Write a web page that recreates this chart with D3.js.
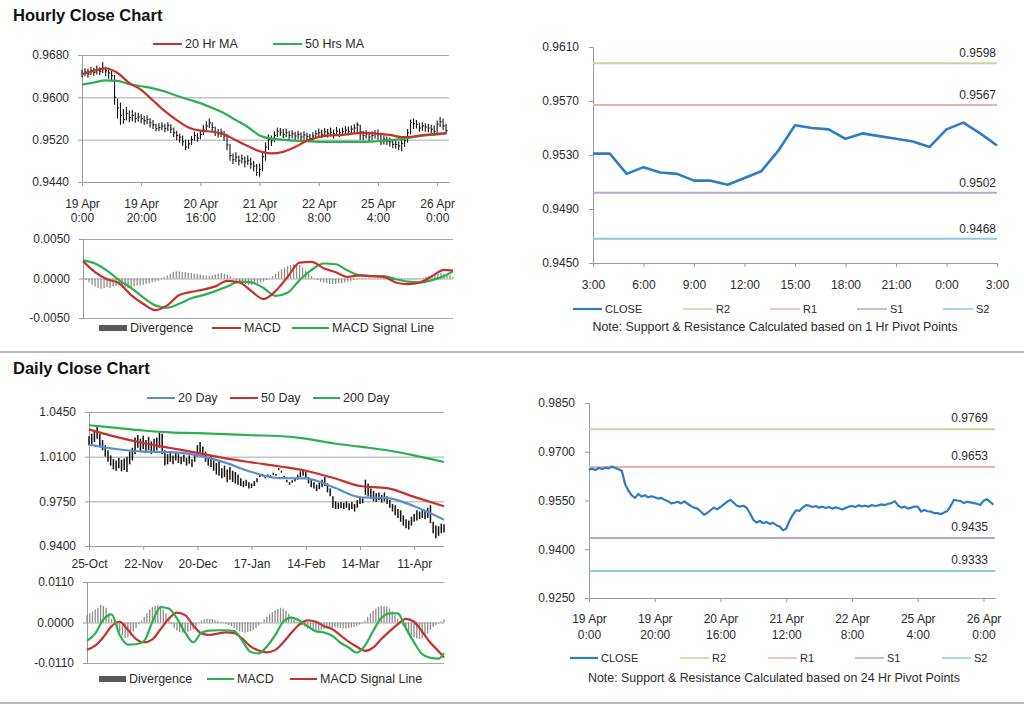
<!DOCTYPE html>
<html><head><meta charset="utf-8">
<script src="https://cdn.jsdelivr.net/npm/d3@7"></script>
<style>
body{margin:0;background:#fff;}
svg{display:block;}
</style></head><body>
<svg id="c" width="1024" height="706"></svg>
<script>
// ---------------- DATA ----------------
const hourlyTickIndex = [0,20,40,60,80,100,120];
const hourlyTickDate = ["19 Apr","19 Apr","20 Apr","21 Apr","22 Apr","25 Apr","26 Apr"];
const hourlyTickTime = ["0:00","20:00","16:00","12:00","8:00","4:00","0:00"];

const hourlyClose = [
0.9645,0.9648,0.9644,0.9650,0.9647,0.9651,0.9649,0.9655,0.9650,0.9646,
0.9641,0.9600,0.9580,0.9566,0.9558,0.9570,0.9562,0.9566,0.9560,0.9563,
0.9560,0.9556,0.9558,0.9552,0.9548,0.9541,0.9543,0.9546,0.9541,0.9547,
0.9540,0.9533,0.9528,0.9525,0.9516,0.9506,0.9512,0.9520,0.9528,0.9523,
0.9530,0.9538,0.9546,0.9552,0.9543,0.9534,0.9531,0.9534,0.9527,0.9510,
0.9490,0.9482,0.9487,0.9480,0.9484,0.9478,0.9481,0.9474,0.9470,0.9458,
0.9464,0.9488,0.9506,0.9520,0.9518,0.9528,0.9536,0.9534,0.9530,0.9533,
0.9528,0.9531,0.9527,0.9530,0.9525,0.9529,0.9526,0.9522,0.9527,0.9531,
0.9533,0.9530,0.9535,0.9532,0.9534,0.9531,0.9536,0.9533,0.9535,0.9538,
0.9536,0.9540,0.9542,0.9548,0.9535,0.9528,0.9531,0.9525,0.9528,0.9531,
0.9531,0.9516,0.9521,0.9517,0.9516,0.9511,0.9511,0.9508,0.9513,0.9518,
0.9533,0.9552,0.9550,0.9549,0.9542,0.9546,0.9544,0.9542,0.9540,0.9536,
0.9549,0.9554,0.9546,0.9537];
const hourlyHigh = [
0.9652,0.9655,0.9654,0.9658,0.9656,0.9660,0.9657,0.9667,0.9658,0.9653,
0.9650,0.9642,0.9598,0.9590,0.9578,0.9582,0.9575,0.9576,0.9572,0.9571,
0.9568,0.9565,0.9566,0.9561,0.9557,0.9550,0.9551,0.9553,0.9550,0.9553,
0.9549,0.9543,0.9537,0.9531,0.9528,0.9520,0.9520,0.9527,0.9535,0.9532,
0.9538,0.9548,0.9555,0.9560,0.9553,0.9545,0.9540,0.9541,0.9537,0.9530,
0.9512,0.9494,0.9496,0.9490,0.9492,0.9488,0.9490,0.9486,0.9480,0.9474,
0.9475,0.9498,0.9515,0.9530,0.9528,0.9536,0.9543,0.9542,0.9540,0.9541,
0.9537,0.9538,0.9535,0.9537,0.9534,0.9536,0.9533,0.9531,0.9534,0.9538,
0.9541,0.9539,0.9542,0.9540,0.9543,0.9539,0.9544,0.9541,0.9543,0.9546,
0.9545,0.9547,0.9549,0.9553,0.9548,0.9537,0.9538,0.9535,0.9536,0.9538,
0.9539,0.9533,0.9528,0.9526,0.9524,0.9521,0.9519,0.9517,0.9520,0.9525,
0.9540,0.9558,0.9560,0.9557,0.9552,0.9553,0.9551,0.9550,0.9548,0.9547,
0.9556,0.9563,0.9560,0.9550];
const hourlyLow = [
0.9638,0.9640,0.9637,0.9642,0.9641,0.9643,0.9642,0.9646,0.9640,0.9635,
0.9630,0.9586,0.9560,0.9548,0.9550,0.9556,0.9553,0.9555,0.9552,0.9554,
0.9551,0.9548,0.9549,0.9543,0.9540,0.9536,0.9536,0.9538,0.9534,0.9536,
0.9532,0.9525,0.9519,0.9514,0.9508,0.9500,0.9503,0.9510,0.9518,0.9516,
0.9521,0.9529,0.9537,0.9542,0.9535,0.9527,0.9524,0.9525,0.9518,0.9500,
0.9480,0.9474,0.9478,0.9471,0.9475,0.9468,0.9472,0.9465,0.9460,0.9452,
0.9450,0.9460,0.9480,0.9500,0.9508,0.9515,0.9525,0.9527,0.9523,0.9525,
0.9520,0.9522,0.9519,0.9521,0.9518,0.9520,0.9517,0.9515,0.9518,0.9522,
0.9525,0.9523,0.9526,0.9524,0.9526,0.9522,0.9527,0.9525,0.9527,0.9529,
0.9528,0.9531,0.9532,0.9533,0.9520,0.9519,0.9522,0.9517,0.9519,0.9522,
0.9520,0.9510,0.9511,0.9510,0.9507,0.9504,0.9503,0.9500,0.9498,0.9506,
0.9514,0.9530,0.9540,0.9541,0.9535,0.9537,0.9535,0.9534,0.9532,0.9530,
0.9533,0.9544,0.9538,0.9530];

const hourlySampleIndex = [0,4,8,12,16,20,24,28,32,36,40,44,48,52,56,60,64,68,72,76,80,84,88,92,96,100,104,108,112,116,120,123];
const ma20Hr = [0.9644,0.9650,0.9655,0.9646,0.9627,0.9614,0.9594,0.9574,0.9557,0.9543,0.9537,0.9535,0.9530,0.9519,0.9508,0.9498,0.9494,0.9497,0.9506,0.9518,0.9525,0.9528,0.9529,0.9532,0.9533,0.9531,0.9529,0.9525,0.9526,0.9529,0.9531,0.9533];
const ma50Hr = [0.9624,0.9628,0.9632,0.9631,0.9625,0.9621,0.9617,0.9611,0.9603,0.9596,0.9589,0.9580,0.9570,0.9557,0.9544,0.9528,0.9522,0.9520,0.9518,0.9517,0.9516,0.9516,0.9516,0.9516,0.9516,0.9517,0.9519,0.9521,0.9525,0.9528,0.9530,0.9532];
const hourlyMacd = [0.0022,0.0008,-0.0001,-0.0006,-0.0021,-0.0032,-0.0040,-0.0034,-0.0021,-0.0017,-0.0014,-0.0010,-0.0003,-0.0005,-0.0016,-0.0026,-0.0016,0.0002,0.0020,0.0021,0.0013,0.0008,0.0002,0.0004,0.0003,0.0002,-0.0005,-0.0007,-0.0005,0.0003,0.0011,0.0010];
const hourlySignal = [0.0023,0.0019,0.0010,-0.0002,-0.0012,-0.0024,-0.0034,-0.0037,-0.0032,-0.0025,-0.0021,-0.0016,-0.0010,-0.0004,-0.0005,-0.0012,-0.0022,-0.0018,-0.0002,0.0011,0.0019,0.0018,0.0010,0.0004,0.0003,0.0003,-0.0001,-0.0004,-0.0005,-0.0002,0.0003,0.0009];
const hourlyDivergence = [
0.0000,-0.0002,-0.0005,-0.0008,-0.0010,-0.0012,-0.0013,-0.0012,-0.0011,-0.0012,
-0.0010,-0.0009,-0.0008,-0.0010,-0.0011,-0.0012,-0.0011,-0.0010,-0.0009,-0.0009,
-0.0008,-0.0007,-0.0006,-0.0005,-0.0004,-0.0003,-0.0001,0.0002,0.0004,0.0006,
0.0008,0.0009,0.0009,0.0008,0.0008,0.0007,0.0007,0.0006,0.0006,0.0005,
0.0004,0.0004,0.0003,0.0004,0.0005,0.0006,0.0007,0.0006,0.0005,0.0003,
-0.0001,-0.0003,-0.0005,-0.0006,-0.0007,-0.0008,-0.0008,-0.0007,-0.0006,-0.0005,
-0.0004,-0.0002,0.0000,0.0003,0.0006,0.0009,0.0012,0.0014,0.0016,0.0017,
0.0018,0.0018,0.0017,0.0014,0.0010,0.0006,0.0003,0.0000,-0.0002,-0.0004,
-0.0005,-0.0006,-0.0007,-0.0007,-0.0007,-0.0006,-0.0006,-0.0005,-0.0004,-0.0003,
-0.0002,-0.0001,0.0000,0.0001,0.0001,0.0001,0.0000,0.0000,0.0000,0.0000,
-0.0001,-0.0001,-0.0001,-0.0002,-0.0002,-0.0002,-0.0002,-0.0001,-0.0001,-0.0001,
-0.0001,0.0000,0.0000,0.0001,0.0002,0.0003,0.0004,0.0005,0.0006,0.0007,
0.0006,0.0005,0.0004,0.0002];

// Pivot (1 hr) chart: last 25 hourly closes
const pivotStart = 99;
const pivotTickIndex = [0,3,6,9,12,15,18,21,24];
const pivotTickLabel = ["3:00","6:00","9:00","12:00","15:00","18:00","21:00","0:00","3:00"];
const pivotNames = ["R2","R1","S1","S2"];
const hourlyPivotValues = [0.9598,0.9567,0.9502,0.9468];
const dailyPivotValues = [0.9769,0.9653,0.9435,0.9333];

// Daily
const dailyTickIndex = [0,20,40,60,80,100,120];
const dailyTickLabel = ["25-Oct","22-Nov","20-Dec","17-Jan","14-Feb","14-Mar","11-Apr"];
const dailyHigh = [
1.0260,1.0280,1.0300,1.0333,1.0280,1.0230,1.0190,1.0150,1.0110,1.0080,
1.0070,1.0090,1.0075,1.0085,1.0100,1.0140,1.0170,1.0250,1.0270,1.0240,
1.0265,1.0230,1.0255,1.0220,1.0240,1.0250,1.0290,1.0280,1.0150,1.0120,
1.0130,1.0110,1.0130,1.0120,1.0100,1.0115,1.0090,1.0110,1.0080,1.0120,
1.0190,1.0215,1.0180,1.0140,1.0100,1.0110,1.0070,1.0050,1.0060,1.0010,
1.0030,1.0000,1.0020,0.9990,0.9980,0.9960,0.9930,0.9910,0.9920,0.9900,
0.9890,0.9910,0.9930,0.9960,0.9965,0.9950,0.9960,0.9955,0.9975,0.9965,
1.0010,0.9990,0.9950,0.9920,0.9900,0.9915,0.9930,0.9960,0.9985,1.0000,
0.9980,0.9940,0.9920,0.9900,0.9880,0.9895,0.9920,0.9940,0.9890,0.9850,
0.9790,0.9750,0.9740,0.9745,0.9740,0.9750,0.9735,0.9745,0.9730,0.9760,
0.9780,0.9775,0.9920,0.9890,0.9850,0.9830,0.9815,0.9820,0.9800,0.9820,
0.9790,0.9760,0.9730,0.9720,0.9690,0.9680,0.9640,0.9610,0.9600,0.9630,
0.9650,0.9680,0.9670,0.9690,0.9680,0.9700,0.9720,0.9590,0.9560,0.9555,
0.9575,0.9570];
const dailyLow = [
1.0190,1.0200,1.0215,1.0240,1.0180,1.0150,1.0100,1.0060,1.0030,1.0000,
0.9990,1.0010,0.9985,0.9995,0.9980,1.0040,1.0070,1.0120,1.0170,1.0140,
1.0160,1.0130,1.0150,1.0120,1.0130,1.0150,1.0170,1.0120,1.0030,1.0040,
1.0060,1.0040,1.0070,1.0050,1.0040,1.0060,1.0030,1.0045,1.0020,1.0060,
1.0100,1.0130,1.0100,1.0060,1.0030,1.0020,0.9990,0.9960,0.9950,0.9930,
0.9940,0.9900,0.9920,0.9900,0.9890,0.9880,0.9870,0.9860,0.9870,0.9850,
0.9855,0.9870,0.9900,0.9940,0.9945,0.9930,0.9940,0.9940,0.9955,0.9950,
0.9995,0.9975,0.9935,0.9900,0.9880,0.9895,0.9905,0.9920,0.9940,0.9950,
0.9930,0.9890,0.9860,0.9850,0.9830,0.9845,0.9860,0.9870,0.9820,0.9790,
0.9700,0.9690,0.9690,0.9695,0.9690,0.9700,0.9680,0.9690,0.9670,0.9700,
0.9730,0.9735,0.9800,0.9790,0.9770,0.9750,0.9745,0.9760,0.9740,0.9750,
0.9730,0.9700,0.9670,0.9640,0.9620,0.9590,0.9560,0.9540,0.9530,0.9560,
0.9590,0.9600,0.9610,0.9620,0.9610,0.9620,0.9580,0.9500,0.9460,0.9480,
0.9500,0.9505];
const dailyMAIndex = [0,10,20,30,40,50,60,70,80,90,100,110,120,131];
const ma20Day = [1.0194,1.0160,1.0140,1.0136,1.0112,1.0055,0.9980,0.9932,0.9930,0.9862,0.9782,0.9775,0.9712,0.9606];
const ma50Day = [1.0314,1.0255,1.0207,1.0168,1.0130,1.0088,1.0055,1.0025,0.9990,0.9935,0.9870,0.9853,0.9785,0.9711];
const ma200Day = [1.0346,1.0325,1.0305,1.0290,1.0284,1.0277,1.0268,1.0262,1.0242,1.0205,1.0178,1.0150,1.0110,1.0058];
const dailyMacdIndex = [0,3,6,9,12,15,18,21,24,27,30,33,36,39,42,45,48,51,54,57,60,63,66,69,72,75,78,81,84,87,90,93,96,99,102,105,108,111,114,117,120,123,126,129,131];
const dailyMacd = [-0.0050,-0.0030,0.0008,0.0022,-0.0034,-0.0060,-0.0059,-0.0050,0.0002,0.0042,0.0038,0.0011,-0.0027,-0.0054,-0.0028,-0.0022,-0.0021,-0.0021,-0.0023,-0.0050,-0.0080,-0.0084,-0.0065,-0.0035,0.0002,0.0013,0.0005,-0.0010,-0.0024,-0.0027,-0.0036,-0.0055,-0.0068,-0.0082,-0.0063,-0.0023,0.0012,0.0025,0.0025,-0.0015,-0.0054,-0.0086,-0.0096,-0.0098,-0.0083];
const dailySignal = [-0.0074,-0.0063,-0.0040,-0.0010,0.0002,-0.0020,-0.0045,-0.0054,-0.0046,-0.0018,0.0010,0.0027,0.0020,-0.0008,-0.0030,-0.0034,-0.0030,-0.0027,-0.0029,-0.0044,-0.0065,-0.0076,-0.0081,-0.0075,-0.0054,-0.0028,-0.0005,0.0006,0.0002,-0.0010,-0.0018,-0.0035,-0.0052,-0.0066,-0.0077,-0.0068,-0.0045,-0.0024,-0.0005,0.0010,0.0002,-0.0025,-0.0055,-0.0078,-0.0095];
const dailyDivergence = [
0.0020,0.0025,0.0030,0.0035,0.0040,0.0048,0.0045,0.0040,0.0025,0.0010,
-0.0005,-0.0015,-0.0025,-0.0035,-0.0042,-0.0040,-0.0035,-0.0025,-0.0015,-0.0005,
0.0005,0.0015,0.0025,0.0035,0.0042,0.0045,0.0047,0.0045,0.0035,0.0025,
0.0010,-0.0005,-0.0015,-0.0022,-0.0026,-0.0028,-0.0025,-0.0025,-0.0022,-0.0018,
-0.0010,0.0002,0.0006,0.0009,0.0010,0.0010,0.0009,0.0006,0.0004,0.0002,
0.0000,-0.0003,-0.0007,-0.0010,-0.0015,-0.0020,-0.0024,-0.0026,-0.0028,-0.0026,
-0.0024,-0.0020,-0.0015,-0.0008,0.0000,0.0008,0.0015,0.0022,0.0028,0.0033,
0.0037,0.0040,0.0038,0.0032,0.0024,0.0016,0.0008,0.0002,-0.0003,-0.0008,
-0.0012,-0.0016,-0.0018,-0.0020,-0.0022,-0.0022,-0.0020,-0.0018,-0.0016,-0.0015,
-0.0014,-0.0013,-0.0014,-0.0015,-0.0016,-0.0016,-0.0015,-0.0014,-0.0012,-0.0010,
-0.0006,-0.0002,0.0005,0.0015,0.0025,0.0032,0.0038,0.0042,0.0045,0.0045,
0.0043,0.0038,0.0030,0.0020,0.0010,0.0000,-0.0010,-0.0020,-0.0028,-0.0035,
-0.0040,-0.0043,-0.0045,-0.0043,-0.0038,-0.0030,-0.0020,-0.0012,-0.0006,-0.0002,
0.0003,0.0008];

// ---------------- DRAWING ----------------
const FONT = "Arial, 'Liberation Sans', sans-serif";
const TXT = "#2b2b2b";
const AX = "#9a9a9a";
const GRID = "#a8a8a8";
const C = {red:"#c8302c", green:"#2bb04e", blue:"#5b8ccc", close:"#2f7cc3",
  R2:"#c3d69b", R1:"#e6b3b2", S1:"#b6a6cc", S2:"#8ccbdc", div:"#8c8c8c", divLeg:"#595959"};
const pivotColors = [C.R2, C.R1, C.S1, C.S2];

const svg = d3.select("#c").attr("font-family", FONT);
const fmt4 = v => (v < 0 ? "-" : "") + Math.abs(v).toFixed(4);

function text(x, y, s, opts={}) {
  return svg.append("text").attr("x", x).attr("y", y).text(s)
    .attr("fill", opts.fill || TXT).attr("font-size", opts.size || 12)
    .attr("font-weight", opts.weight || "normal")
    .attr("text-anchor", opts.anchor || "start");
}
function styleAxis(ga) {
  ga.attr("font-family", FONT).attr("font-size", 12);
  ga.select(".domain").attr("stroke", AX);
  ga.selectAll(".tick line").attr("stroke", AX);
  ga.selectAll(".tick text").attr("fill", TXT);
}
function yAxis(y, ticks, x0, gridTo, pad) {
  if (gridTo) {
    const gg = svg.append("g").attr("transform", `translate(${x0},0)`)
      .call(d3.axisLeft(y).tickValues(ticks).tickSize(-(gridTo - x0)).tickFormat(""));
    gg.select(".domain").remove();
    gg.selectAll(".tick line").attr("stroke", GRID);
  }
  const ga = svg.append("g").attr("transform", `translate(${x0},0)`)
    .call(d3.axisLeft(y).tickValues(ticks).tickFormat(fmt4).tickSize(4).tickSizeOuter(0).tickPadding(pad));
  styleAxis(ga);
  return ga;
}
function xAxis(x, yPos, tickIdx, lines, firstOff, lineGap) {
  const ga = svg.append("g").attr("transform", `translate(0,${yPos})`)
    .call(d3.axisBottom(x).tickValues(tickIdx).tickSize(4).tickSizeOuter(0).tickFormat(""));
  styleAxis(ga);
  ga.selectAll(".tick").each(function(d, i) {
    const t = d3.select(this).append("text").attr("fill", TXT).attr("text-anchor", "middle")
      .attr("font-size", 12);
    lines.forEach((arr, k) => t.append("tspan").attr("x", 0).attr("y", firstOff + k * lineGap).text(arr[i]));
  });
}
function legendLine(x1, x2, y, color, label, w, size) {
  svg.append("line").attr("x1", x1).attr("x2", x2).attr("y1", y).attr("y2", y)
    .attr("stroke", color).attr("stroke-width", w || 2);
  text(x2 + 3, y + 4, label, {size: size || 12.5});
}
function linePath(xs, ys, x, y, color, w, curve) {
  const pts = xs.map((d, i) => [d, ys[i]]);
  svg.append("path").datum(pts)
    .attr("d", d3.line().x(d => x(d[0])).y(d => y(d[1])).curve(curve || d3.curveLinear))
    .attr("fill", "none").attr("stroke", color).attr("stroke-width", w).attr("stroke-linejoin", "round");
}
function hlBars(high, low, close, x, y, w) {
  const g = svg.append("g").attr("stroke", "#111").attr("stroke-width", w);
  high.forEach((h, i) => {
    g.append("line").attr("x1", x(i)).attr("x2", x(i)).attr("y1", y(h)).attr("y2", y(low[i]));
    if (close) g.append("line").attr("x1", x(i)).attr("x2", x(i) + 1.5).attr("y1", y(close[i])).attr("y2", y(close[i]));
  });
}
function divBars(vals, x, y, w) {
  const g = svg.append("g").attr("fill", C.div);
  vals.forEach((v, i) => {
    g.append("rect").attr("x", x(i) - w / 2).attr("width", w)
      .attr("y", Math.min(y(v), y(0))).attr("height", Math.max(0.5, Math.abs(y(v) - y(0))));
  });
}
const idx = arr => arr.map((d, i) => i);

// Titles and separators
text(13, 21, "Hourly Close Chart", {size: 16.5, weight: "bold", fill: "#111"});
text(13, 374, "Daily Close Chart", {size: 16.5, weight: "bold", fill: "#111"});
svg.append("line").attr("x1", 0).attr("x2", 1024).attr("y1", 352).attr("y2", 352).attr("stroke", "#a0a0a0").attr("stroke-width", 1.5);
svg.append("line").attr("x1", 0).attr("x2", 1024).attr("y1", 703).attr("y2", 703).attr("stroke", "#a0a0a0").attr("stroke-width", 1.5);

// ---- Top-left: hourly bars ----
{
  const x = d3.scaleLinear().domain([0, 124]).range([82, 449]);
  const y = d3.scaleLinear().domain([0.9440, 0.9680]).range([182, 55]);
  yAxis(y, [0.9440, 0.9520, 0.9600, 0.9680], 82, 449, 9);
  xAxis(x, 182, hourlyTickIndex, [hourlyTickDate, hourlyTickTime], 26, 14);
  hlBars(hourlyHigh, hourlyLow, hourlyClose, x, y, 1.1);
  linePath(hourlySampleIndex, ma50Hr, x, y, C.green, 2.2, d3.curveMonotoneX);
  linePath(hourlySampleIndex, ma20Hr, x, y, C.red, 2.2, d3.curveMonotoneX);
  legendLine(153, 182, 44, C.red, "20 Hr MA");
  legendLine(273, 302, 44, C.green, "50 Hrs MA");
}
// ---- Top-left: hourly MACD ----
{
  const x = d3.scaleLinear().domain([0, 123]).range([83, 453]);
  const y = d3.scaleLinear().domain([-0.005, 0.005]).range([318, 239]);
  yAxis(y, [-0.005, 0, 0.005], 83, 453, 9);
  divBars(hourlyDivergence, x, y, 1.3);
  linePath(hourlySampleIndex, hourlySignal, x, y, C.green, 2.2, d3.curveMonotoneX);
  linePath(hourlySampleIndex, hourlyMacd, x, y, C.red, 2.2, d3.curveMonotoneX);
  svg.append("rect").attr("x", 99).attr("y", 325).attr("width", 28).attr("height", 6).attr("fill", C.divLeg);
  text(130, 332, "Divergence", {size: 12.5});
  legendLine(212, 241, 328, C.red, "MACD");
  legendLine(292, 329, 328, C.green, "MACD Signal Line");
}
// ---- Top-right: 1 hr pivots ----
{
  const closes = hourlyClose.slice(pivotStart);
  const x = d3.scaleLinear().domain([0, 24]).range([593, 997]);
  const y = d3.scaleLinear().domain([0.9450, 0.9610]).range([263, 47]);
  yAxis(y, [0.9450, 0.9490, 0.9530, 0.9570, 0.9610], 593, null, 10);
  xAxis(x, 263, pivotTickIndex, [pivotTickLabel], 26, 14);
  hourlyPivotValues.forEach((v, k) => {
    svg.append("line").attr("x1", x(0)).attr("x2", x(24)).attr("y1", y(v)).attr("y2", y(v))
      .attr("stroke", pivotColors[k]).attr("stroke-width", 2);
    text(996, y(v) - 6, v.toFixed(4), {anchor: "end"});
  });
  linePath(idx(closes), closes, x, y, C.close, 2.6);
  legendLine(573, 602, 309, C.close, "CLOSE", 2.2, 11);
  const lx = [683, 770, 857, 943];
  pivotNames.forEach((n, k) => legendLine(lx[k], lx[k] + 30, 309, pivotColors[k], n, 1.5, 11));
  text(775, 331, "Note: Support & Resistance Calculated based on 1 Hr Pivot Points", {anchor: "middle", size: 12.4});
}
// ---- Bottom-left: daily bars ----
{
  const x = d3.scaleLinear().domain([0, 131]).range([89, 444]);
  const y = d3.scaleLinear().domain([0.9400, 1.0450]).range([546, 412]);
  yAxis(y, [0.9400, 0.9750, 1.0100, 1.0450], 89, 444, 9);
  xAxis(x, 546, dailyTickIndex, [dailyTickLabel], 22, 14);
  hlBars(dailyHigh, dailyLow, null, x, y, 1.5);
  linePath(dailyMAIndex, ma200Day, x, y, C.green, 2.2, d3.curveMonotoneX);
  linePath(dailyMAIndex, ma50Day, x, y, C.red, 2.2, d3.curveMonotoneX);
  linePath(dailyMAIndex, ma20Day, x, y, C.blue, 2.2, d3.curveMonotoneX);
  legendLine(147, 175, 398, C.blue, "20 Day");
  legendLine(230, 258, 398, C.red, "50 Day");
  legendLine(313, 340, 398, C.green, "200 Day");
}
// ---- Bottom-left: daily MACD ----
{
  const x = d3.scaleLinear().domain([0, 131]).range([87, 444]);
  const y = d3.scaleLinear().domain([-0.011, 0.011]).range([663, 582]);
  yAxis(y, [-0.011, 0, 0.011], 87, 444, 9);
  divBars(dailyDivergence, x, y, 1.3);
  linePath(dailyMacdIndex, dailySignal, x, y, C.red, 2.2, d3.curveMonotoneX);
  linePath(dailyMacdIndex, dailyMacd, x, y, C.green, 2.2, d3.curveMonotoneX);
  svg.append("rect").attr("x", 99).attr("y", 676).attr("width", 27).attr("height", 6).attr("fill", C.divLeg);
  text(129, 683, "Divergence", {size: 12.5});
  legendLine(207, 234, 679, C.green, "MACD");
  legendLine(290, 317, 679, C.red, "MACD Signal Line");
}
// ---- Bottom-right: 24 hr pivots ----
{
  const x = d3.scaleLinear().domain([0, 123.5]).range([589, 995]);
  const y = d3.scaleLinear().domain([0.9250, 0.9850]).range([598, 403]);
  yAxis(y, [0.9250, 0.9400, 0.9550, 0.9700, 0.9850], 589, null, 10);
  xAxis(x, 598, hourlyTickIndex, [hourlyTickDate, hourlyTickTime], 25, 16);
  dailyPivotValues.forEach((v, k) => {
    svg.append("line").attr("x1", x(0)).attr("x2", x(123.5)).attr("y1", y(v)).attr("y2", y(v))
      .attr("stroke", pivotColors[k]).attr("stroke-width", 2);
    text(988, y(v) - 7, v.toFixed(4), {anchor: "end"});
  });
  linePath(idx(hourlyClose), hourlyClose, x, y, C.close, 2.2);
  legendLine(570, 598, 658, C.close, "CLOSE", 2.2, 11);
  const lx = [680, 768, 855, 942];
  pivotNames.forEach((n, k) => legendLine(lx[k], lx[k] + 29, 658, pivotColors[k], n, 1.5, 11));
  text(774, 682, "Note: Support & Resistance Calculated based on 24 Hr Pivot Points", {anchor: "middle", size: 12.4});
}
</script>
</body></html>
